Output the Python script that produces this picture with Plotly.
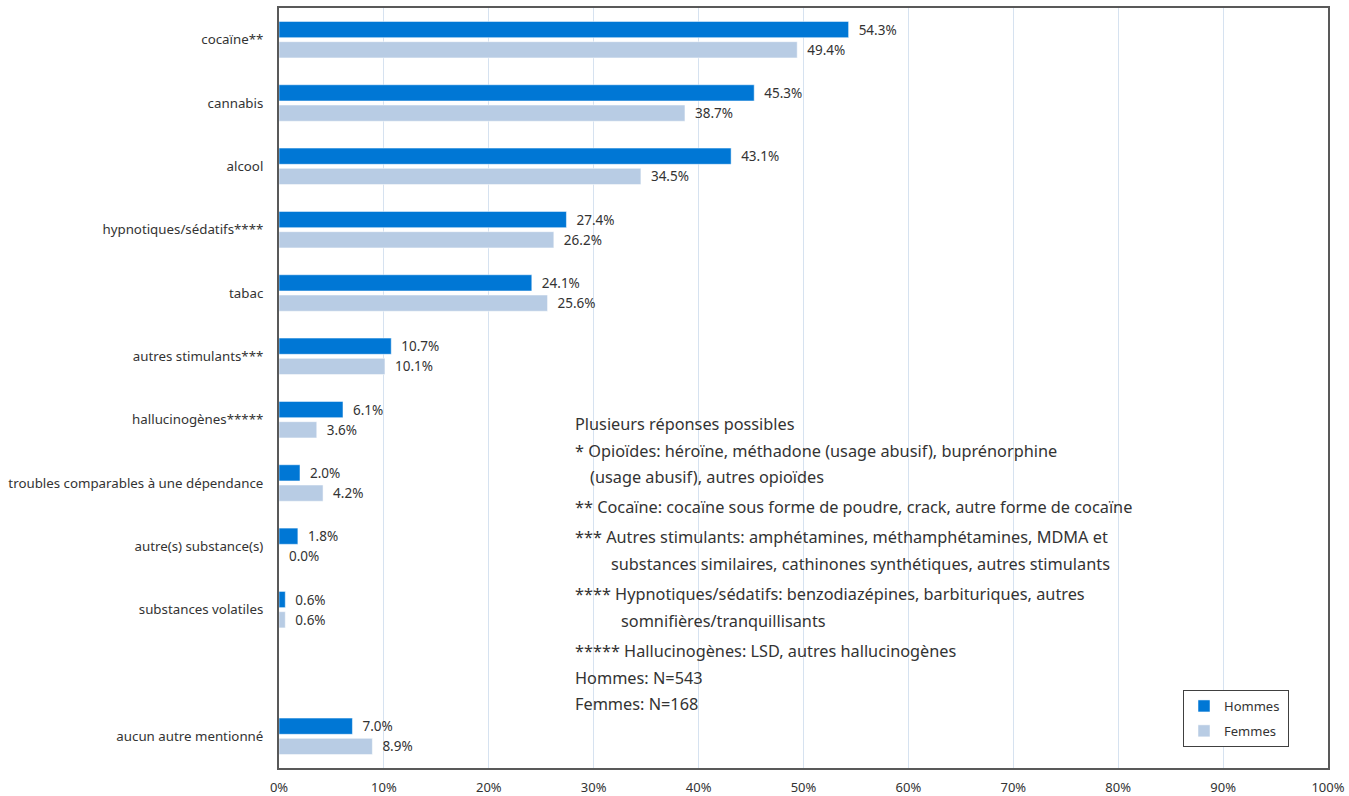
import plotly.graph_objects as go

# Substances mentioned (blank slot separates the last category)
categories = [
    "cocaïne**", "cannabis", "alcool", "hypnotiques/sédatifs****", "tabac",
    "autres stimulants***", "hallucinogènes*****",
    "troubles comparables à une dépendance", "autre(s) substance(s)",
    "substances volatiles", " ", "aucun autre mentionné",
]
hommes = [54.3, 45.3, 43.1, 27.4, 24.1, 10.7, 6.1, 2.0, 1.8, 0.6, None, 7.0]
femmes = [49.4, 38.7, 34.5, 26.2, 25.6, 10.1, 3.6, 4.2, 0.0, 0.6, None, 8.9]
x_ticks = [0, 10, 20, 30, 40, 50, 60, 70, 80, 90, 100]
x_tick_text = [f"{v}%" for v in x_ticks]

notes = [
    ("Plusieurs réponses possibles", 573, 424),
    ("* Opioïdes: héroïne, méthadone (usage abusif), buprénorphine", 573, 451),
    ("(usage abusif), autres opioïdes", 588, 477),
    ("** Cocaïne: cocaïne sous forme de poudre, crack, autre forme de cocaïne", 573, 507),
    ("*** Autres stimulants: amphétamines, méthamphétamines, MDMA et", 573, 537),
    ("substances similaires, cathinones synthétiques, autres stimulants", 609, 564),
    ("**** Hypnotiques/sédatifs: benzodiazépines, barbituriques, autres", 573, 594),
    ("somnifières/tranquillisants", 619, 621),
    ("***** Hallucinogènes: LSD, autres hallucinogènes", 573, 651),
    ("Hommes: N=543", 573, 678),
    ("Femmes: N=168", 573, 704),
]

FONT = "Noto Sans"
TXT = "#333333"
PAD = "\u00a0\u00a0"
TAIL = "\u00a0"

def labels(vals):
    return [("" if v is None else f"{PAD}{v:.1f}%") for v in vals]

fig = go.Figure()
fig.add_trace(go.Bar(
    y=categories, x=hommes, orientation="h", name="Hommes" + TAIL, legendgroup="h",
    marker=dict(color="#0077D5", line=dict(color="#ffffff", width=0.5)),
    text=labels(hommes), textposition="outside", cliponaxis=False, constraintext="none",
    textfont=dict(family=FONT, size=13.5, color=TXT),
))
fig.add_trace(go.Bar(
    y=categories, x=femmes, orientation="h", name="Femmes" + TAIL, legendgroup="f",
    marker=dict(color="#B8CCE4", line=dict(color="#ffffff", width=0.5)),
    text=labels(femmes), textposition="outside", cliponaxis=False, constraintext="none",
    textfont=dict(family=FONT, size=13.5, color=TXT),
))

# plot area in pixels: x 279..1328, y 8..768
L, R, T, B = 279, 1328, 8, 768
W, H = 1349, 796

annotations = []
for txt, px, py in notes:
    annotations.append(dict(
        text=txt, xref="paper", yref="paper",
        x=(px - L) / (R - L), y=(B - py) / (B - T),
        xanchor="left", yanchor="middle", showarrow=False,
        font=dict(family=FONT, size=16.3, color=TXT),
    ))

fig.update_layout(
    width=W, height=H,
    margin=dict(l=L, r=W - R, t=T, b=H - B),
    paper_bgcolor="white", plot_bgcolor="white",
    barmode="group", bargap=0.36, bargroupgap=0.2,
    font=dict(family=FONT, color=TXT),
    xaxis=dict(
        range=[0, 100], tickmode="array", tickvals=x_ticks, ticktext=x_tick_text,
        showgrid=True, gridcolor="#D6E2F0", gridwidth=1,
        showline=True, linecolor="#595959", linewidth=1.5, mirror=True,
        zeroline=False, ticks="", tickfont=dict(family=FONT, size=13, color=TXT),
        ticklabelstandoff=7, fixedrange=True, automargin=False,
    ),
    yaxis=dict(
        autorange="reversed", type="category",
        showline=True, linecolor="#595959", linewidth=2, mirror=True,
        showgrid=False, ticks="", tickfont=dict(family=FONT, size=13.3, color=TXT),
        ticklabelstandoff=11, fixedrange=True, automargin=False,
    ),
    legend=dict(
        x=(1183 - L) / (R - L), y=(B - 690) / (B - T),
        xanchor="left", yanchor="top", traceorder="grouped",
        bgcolor="white", bordercolor="#404040", borderwidth=1,
        font=dict(family=FONT, size=13, color=TXT),
        itemwidth=30, tracegroupgap=5,
    ),
    annotations=annotations,
    showlegend=True,
)

fig.write_html("out.html")
